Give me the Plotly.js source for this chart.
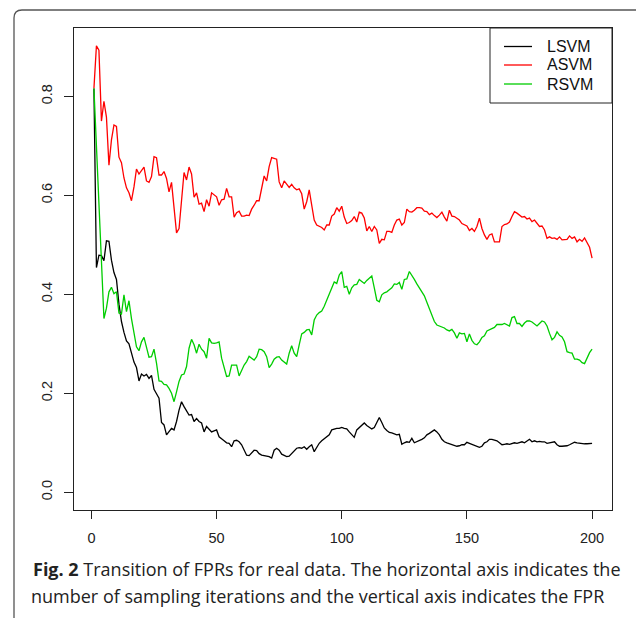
<!DOCTYPE html>
<html>
<head>
<meta charset="utf-8">
<script src="https://cdn.plot.ly/plotly-3.0.1.min.js"></script>
<style>
  html, body { margin: 0; padding: 0; background: #ffffff; }
  #chart { width: 636px; height: 618px; }
</style>
</head>
<body>
<div id="chart"></div>
<script>
// ---- data ----
const seriesNames = ["LSVM", "ASVM", "RSVM"];
const seriesColors = ["#000000", "#ff0000", "#00cd00"];

const lsvm = [
0.816,0.454,0.479,0.478,0.468,0.508,0.507,0.469,0.444,0.430,
0.380,0.345,0.323,0.306,0.300,0.280,0.263,0.252,0.225,0.239,
0.235,0.238,0.230,0.236,0.208,0.199,0.190,0.141,0.136,0.116,
0.122,0.129,0.126,0.143,0.166,0.183,0.173,0.165,0.156,0.157,
0.143,0.149,0.143,0.140,0.122,0.133,0.128,0.122,0.124,0.126,
0.112,0.107,0.104,0.100,0.099,0.092,0.104,0.105,0.102,0.096,
0.085,0.075,0.074,0.080,0.085,0.084,0.078,0.075,0.074,0.073,
0.072,0.069,0.085,0.089,0.085,0.077,0.074,0.072,0.073,0.078,
0.082,0.089,0.090,0.089,0.092,0.087,0.092,0.096,0.082,0.092,
0.099,0.104,0.108,0.111,0.116,0.126,0.128,0.129,0.129,0.131,
0.129,0.128,0.122,0.116,0.111,0.126,0.131,0.135,0.140,0.135,
0.131,0.128,0.131,0.140,0.151,0.141,0.130,0.125,0.121,0.120,
0.118,0.116,0.117,0.097,0.100,0.102,0.101,0.109,0.100,0.102,
0.104,0.107,0.110,0.116,0.119,0.122,0.126,0.122,0.116,0.107,
0.102,0.100,0.098,0.096,0.094,0.093,0.094,0.096,0.096,0.101,
0.099,0.097,0.096,0.094,0.091,0.093,0.100,0.102,0.107,0.107,
0.105,0.104,0.100,0.096,0.097,0.098,0.097,0.099,0.100,0.099,
0.101,0.102,0.100,0.103,0.107,0.102,0.104,0.102,0.103,0.102,
0.102,0.099,0.100,0.102,0.102,0.096,0.093,0.093,0.093,0.094,
0.096,0.099,0.101,0.100,0.099,0.099,0.098,0.098,0.099,0.099
];

const asvm = [
0.816,0.902,0.893,0.750,0.790,0.758,0.661,0.712,0.742,0.739,
0.677,0.666,0.635,0.615,0.605,0.589,0.617,0.653,0.643,0.651,
0.657,0.629,0.626,0.638,0.678,0.676,0.641,0.641,0.648,0.634,
0.607,0.626,0.570,0.524,0.533,0.584,0.646,0.631,0.657,0.643,
0.596,0.605,0.582,0.584,0.567,0.591,0.578,0.605,0.601,0.597,
0.580,0.591,0.592,0.614,0.597,0.597,0.556,0.565,0.568,0.558,
0.558,0.560,0.559,0.572,0.580,0.589,0.589,0.611,0.639,0.629,
0.658,0.676,0.674,0.673,0.627,0.615,0.629,0.622,0.616,0.622,
0.615,0.611,0.613,0.603,0.572,0.587,0.611,0.580,0.550,0.540,
0.538,0.535,0.530,0.540,0.540,0.558,0.562,0.575,0.568,0.578,
0.556,0.543,0.545,0.549,0.557,0.546,0.566,0.564,0.554,0.528,
0.537,0.527,0.537,0.530,0.503,0.511,0.510,0.527,0.527,0.525,
0.540,0.550,0.552,0.540,0.545,0.572,0.567,0.566,0.570,0.575,
0.575,0.574,0.568,0.567,0.561,0.564,0.559,0.555,0.560,0.566,
0.556,0.548,0.570,0.558,0.557,0.554,0.550,0.543,0.540,0.538,
0.529,0.533,0.527,0.537,0.554,0.533,0.520,0.511,0.520,0.522,
0.506,0.506,0.506,0.537,0.541,0.542,0.546,0.557,0.567,0.564,
0.560,0.556,0.557,0.552,0.554,0.547,0.550,0.543,0.537,0.538,
0.530,0.513,0.516,0.513,0.514,0.511,0.516,0.510,0.511,0.511,
0.518,0.513,0.516,0.506,0.511,0.507,0.514,0.503,0.495,0.473
];

const rsvm = [
0.816,0.700,0.585,0.470,0.351,0.372,0.405,0.414,0.401,0.405,
0.362,0.360,0.399,0.365,0.387,0.351,0.321,0.294,0.286,0.304,
0.313,0.294,0.273,0.274,0.289,0.261,0.225,0.224,0.218,0.217,
0.210,0.200,0.183,0.203,0.224,0.237,0.239,0.254,0.291,0.309,
0.298,0.281,0.299,0.289,0.284,0.271,0.311,0.302,0.301,0.302,
0.304,0.271,0.250,0.234,0.235,0.257,0.257,0.257,0.235,0.247,
0.257,0.264,0.275,0.271,0.267,0.274,0.289,0.288,0.284,0.274,
0.252,0.259,0.269,0.273,0.274,0.267,0.262,0.259,0.281,0.296,
0.281,0.274,0.298,0.320,0.323,0.328,0.329,0.318,0.348,0.358,
0.363,0.366,0.376,0.388,0.399,0.414,0.425,0.422,0.439,0.446,
0.414,0.416,0.400,0.413,0.419,0.420,0.430,0.426,0.422,0.428,
0.432,0.437,0.413,0.388,0.385,0.399,0.403,0.405,0.409,0.413,
0.421,0.420,0.424,0.410,0.430,0.431,0.446,0.439,0.430,0.421,
0.413,0.405,0.397,0.384,0.372,0.358,0.345,0.338,0.336,0.335,
0.332,0.328,0.326,0.329,0.322,0.311,0.322,0.320,0.321,0.304,
0.320,0.307,0.300,0.298,0.304,0.313,0.316,0.326,0.328,0.330,
0.333,0.339,0.339,0.339,0.341,0.339,0.336,0.353,0.355,0.341,
0.341,0.335,0.342,0.346,0.346,0.344,0.339,0.336,0.341,0.346,
0.344,0.336,0.321,0.308,0.313,0.324,0.317,0.314,0.304,0.284,
0.282,0.281,0.269,0.269,0.267,0.262,0.260,0.273,0.282,0.289
];

const xTickVals = [0, 50, 100, 150, 200];
const yTickVals = [0.0, 0.2, 0.4, 0.6, 0.8];
const yTickText = ["0.0", "0.2", "0.4", "0.6", "0.8"];
const captionBold = "Fig. 2";
const captionLine1 = " Transition of FPRs for real data. The horizontal axis indicates the";
const captionLine2 = "number of sampling iterations and the vertical axis indicates the FPR";

// ---- build ----
const iterations = lsvm.map((_, i) => i + 1);
const allSeries = [lsvm, asvm, rsvm];

const traces = allSeries.map((ys, k) => ({
  x: iterations,
  y: ys,
  type: "scatter",
  mode: "lines",
  name: seriesNames[k],
  showlegend: false,
  line: { color: seriesColors[k], width: 1.3 },
  hoverinfo: "skip"
}));

// plot box in pixels: left 74, right 612, top 28, bottom 510
const W = 636, H = 618, L = 74, R = 24, T = 28, B = 108;
const pw = W - L - R, ph = H - T - B;
const px = v => (v - L) / pw;            // pixel x -> paper x
const py = v => (H - B - v) / ph;        // pixel y -> paper y

const axisFont = { family: "Liberation Sans, Arial, sans-serif", size: 14.5, color: "#222222" };
const legendFont = { family: "Liberation Sans, Arial, sans-serif", size: 16, color: "#111111" };
const captionFont = { family: "Open Sans, Noto Sans, sans-serif", size: 18, color: "#222222" };

// legend (R-style box in the top-right corner of the plot)
const legendRowsY = [46.5, 65, 84];
const shapes = [
  {
    type: "path", xref: "paper", yref: "paper",
    path: `M ${px(14)},${py(640)} L ${px(14)},${py(18)} Q ${px(14)},${py(10)} ${px(22)},${py(10)} L ${px(660)},${py(10)}`,
    line: { color: "#555555", width: 1.3 }
  },
  {
    type: "rect", xref: "paper", yref: "paper",
    x0: px(490), x1: 1, y0: py(103), y1: 1,
    fillcolor: "rgba(0,0,0,0)", line: { color: "#222222", width: 1 }
  }
];
const annotations = [
  {
    xref: "paper", yref: "paper", x: px(31), y: py(583),
    xanchor: "left", yanchor: "bottom", showarrow: false,
    text: "<b>" + captionBold + "</b>" + captionLine1,
    font: captionFont
  },
  {
    xref: "paper", yref: "paper", x: px(29), y: py(610),
    xanchor: "left", yanchor: "bottom", showarrow: false,
    text: captionLine2,
    font: captionFont
  }
];
seriesNames.forEach((nm, k) => {
  shapes.push({
    type: "line", xref: "paper", yref: "paper",
    x0: px(504), x1: px(532), y0: py(legendRowsY[k]), y1: py(legendRowsY[k]),
    line: { color: seriesColors[k], width: 1.3 }
  });
  annotations.push({
    xref: "paper", yref: "paper", x: px(545), y: py(legendRowsY[k]),
    xanchor: "left", yanchor: "middle", showarrow: false,
    text: nm, font: legendFont
  });
});

const layout = {
  width: W, height: H,
  margin: { l: L, r: R, t: T, b: B, pad: 0 },
  paper_bgcolor: "#ffffff",
  plot_bgcolor: "#ffffff",
  showlegend: false,
  xaxis: {
    range: [-6.96, 207.96],
    tickvals: xTickVals,
    ticks: "outside", ticklen: 8, tickwidth: 1, tickcolor: "#222222",
    showline: true, mirror: true, linecolor: "#222222", linewidth: 1,
    showgrid: false, zeroline: false,
    tickfont: axisFont,
    ticklabelstandoff: 7
  },
  yaxis: {
    range: [-0.0358, 0.938],
    tickvals: yTickVals, ticktext: yTickText,
    ticks: "outside", ticklen: 9, tickwidth: 1, tickcolor: "#222222",
    showline: true, mirror: true, linecolor: "#222222", linewidth: 1,
    showgrid: false, zeroline: false,
    tickangle: -90,
    tickfont: axisFont,
    ticklabelstandoff: 6
  },
  shapes: shapes,
  annotations: annotations
};

Plotly.newPlot("chart", traces, layout, { staticPlot: true, displayModeBar: false });
</script>
</body>
</html>
